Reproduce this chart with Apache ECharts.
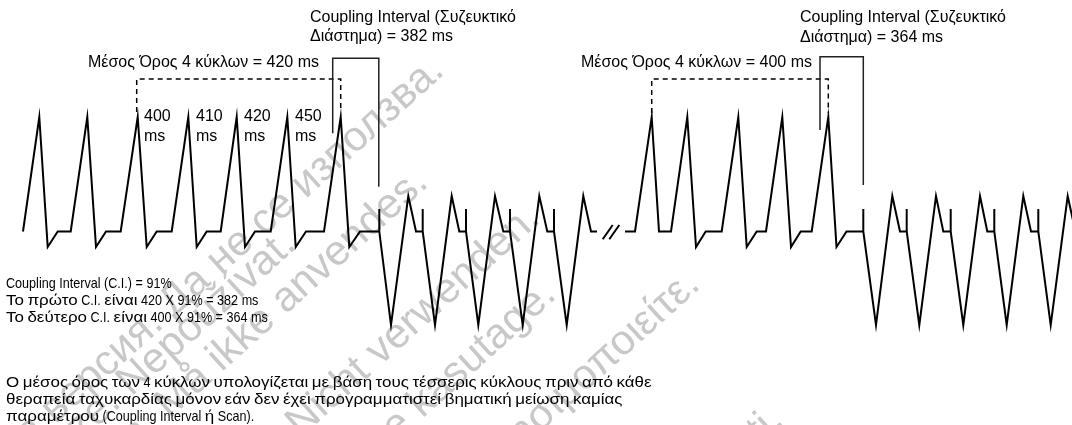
<!DOCTYPE html>
<html>
<head>
<meta charset="utf-8">
<script src="https://cdn.jsdelivr.net/npm/echarts@6.0.0/dist/echarts.min.js"></script>
<style>
html, body { margin: 0; padding: 0; background: #fff; }
#chart { width: 1072px; height: 425px; }
</style>
</head>
<body>
<div id="chart"></div>
<script>
// ECG trace, drawn in picture units (x: 0-1072, y: 0-425 from the top)
var firstStrip = [
	[23, 231.5], [39.3, 117], [47.7, 247], [57.7, 231.5], [70.7, 231.5],
	[87.3, 117], [96, 247], [106, 231.5], [120.7, 231.5],
	[137.7, 117], [146.7, 247], [156.7, 231.5], [171.7, 231.5],
	[188.3, 117], [196.7, 247], [206.7, 231.5], [220.7, 231.5],
	[236.7, 117], [245, 247], [255, 231.5], [270.7, 231.5],
	[287.3, 117], [295.7, 247], [306, 231.5], [324, 231.5],
	[340.7, 117], [349.3, 247], [360, 231.5], [379.3, 231.5],
	[379.3, 209], [379.3, 231.5],
	[391, 325], [408.3, 196], [416, 231.5], [422.7, 231.5], [422.7, 209], [422.7, 231.5],
	[435, 325], [451.7, 196], [459.3, 231.5], [466, 231.5], [466, 209], [466, 231.5],
	[478.3, 325], [495, 196], [503.3, 231.5], [510, 231.5], [510, 209], [510, 231.5],
	[522.7, 325], [539.3, 196], [547.3, 231.5], [554, 231.5], [554, 209], [554, 231.5],
	[566.7, 325], [583.3, 196], [591, 231.5], [597, 231.5]
];
var secondStrip = [
	[625, 231.5], [635, 231.5], [651.7, 117], [659, 231.5], [671, 231.5],
	[687.3, 117], [696, 247], [705.7, 231.5], [721.7, 231.5],
	[738.3, 117], [746.7, 247], [756.7, 231.5], [766, 231.5],
	[782.3, 117], [791, 247], [800.7, 231.5], [811.7, 231.5],
	[828.3, 117], [836.5, 247], [846.5, 231.5], [863.3, 231.5],
	[863.3, 209], [863.3, 231.5],
	[876, 325], [892.3, 196], [900, 231.5], [906.7, 231.5], [906.7, 209], [906.7, 231.5],
	[919.3, 325], [936, 196], [943.3, 231.5], [950.7, 231.5], [950.7, 209], [950.7, 231.5],
	[963.3, 325], [980, 196], [987.3, 231.5], [994.3, 231.5], [994.3, 209], [994.3, 231.5],
	[1006.7, 325], [1023.3, 196], [1031, 231.5], [1038.3, 231.5], [1038.3, 209], [1038.3, 231.5],
	[1050.7, 325], [1067.7, 196], [1075.4, 231.5]
];
var breakMarkA = [[602.7, 239.3], [612.7, 225]];
var breakMarkB = [[609.3, 239.3], [619.3, 225]];

// 4-cycle average brackets (dashed) and coupling interval brackets
var avgDashLeft = [[136.7, 112], [136.7, 79], [340.7, 79], [340.7, 112]];
var avgDashRight = [[651.7, 113], [651.7, 79], [828.3, 79], [828.3, 113]];
var ciBracketLeft = [[332.7, 133.3], [332.7, 58.3], [378.8, 58.3], [378.8, 186.7]];
var ciBracketRight = [[820, 130], [820, 56.7], [863.3, 56.7], [863.3, 185]];

var cycleLabels = ['400', '410', '420', '450'];
var cycleLabelX = [144, 196, 244, 295];

var ciTitle = 'Coupling Interval (Συζευκτικό';
var ciValueLeft = 'Διάστημα) = 382 ms';
var ciValueRight = 'Διάστημα) = 364 ms';
var avgLeft = 'Μέσος Όρος 4 κύκλων = 420 ms';
var avgRight = 'Μέσος Όρος 4 κύκλων = 400 ms';
var noteLines = [
	'Coupling Interval (C.I.) = 91%',
	'Το πρώτο C.I. είναι 420 X 91% = 382 ms',
	'Το δεύτερο C.I. είναι 400 X 91% = 364 ms'
];
var paragraphLines = [
	'Ο μέσος όρος των 4 κύκλων υπολογίζεται με βάση τους τέσσερις κύκλους πριν από κάθε',
	'θεραπεία ταχυκαρδίας μόνον εάν δεν έχει προγραμματιστεί βηματική μείωση καμίας',
	'παραμέτρου (Coupling Interval ή Scan).'
];

// "outdated version" stamp across the page
var stampLines = [
	'Остаряла версия. Да не се използва.',
	'Zastaralá verze. Nepoužívat.',
	'Forældet version. Må ikke anvendes.',
	'Version überholt. Nicht verwenden.',
	'Aegunud versioon. Ärge kasutage.',
	'Παλιά έκδοση. Μην τη χρησιμοποιείτε.',
	'Versiune expirată. Nu utilizaţi.'
];
var stampEnds = [[452, 80], [304, 254], [436, 192], [548, 228], [564, 304], [708, 294], [792, 430]];

var FONT = "'Liberation Sans', Arial, sans-serif";
var NOTE_SIZE = 15;
var LATIN_SCALE = 0.84;   // note text uses a narrow face for latin glyphs
var GREEK_SCALE = 1.13;

function lineSeries(data, color, width, type) {
	return {
		type: 'line',
		data: data,
		symbol: 'none',
		silent: true,
		animation: false,
		z: 3,
		lineStyle: { color: color, width: width, type: type || 'solid', cap: 'butt', join: 'miter', miterLimit: 20 }
	};
}

function topText(str, x, y) {
	return {
		type: 'text', x: x, y: y, silent: true, z: 10,
		style: { text: str, font: '16px ' + FONT, fill: '#000', verticalAlign: 'middle' }
	};
}

var measureCtx = document.createElement('canvas').getContext('2d');
measureCtx.font = NOTE_SIZE + 'px ' + FONT;
function isGreek(ch) {
	var c = ch.charCodeAt(0);
	return (c >= 0x370 && c <= 0x3ff) || (c >= 0x1f00 && c <= 0x1fff);
}
// split a line into greek / other runs and lay them out one after another
function noteText(str, x, y, out) {
	var runs = [];
	for (var i = 0; i < str.length; i++) {
		var g = isGreek(str[i]);
		if (runs.length && runs[runs.length - 1].g === g) runs[runs.length - 1].s += str[i];
		else runs.push({ g: g, s: str[i] });
	}
	var cx = x;
	runs.forEach(function (r) {
		var sc = r.g ? GREEK_SCALE : LATIN_SCALE;
		out.push({
			type: 'text', x: cx, y: y, scaleX: sc, silent: true, z: 10,
			style: { text: r.s, font: NOTE_SIZE + 'px ' + FONT, fill: '#000', verticalAlign: 'middle' }
		});
		cx += measureCtx.measureText(r.s).width * sc;
	});
}

var graphics = [
	topText(ciTitle, 310, 18), topText(ciValueLeft, 310, 37),
	topText(ciTitle, 800, 18), topText(ciValueRight, 800, 38),
	topText(avgLeft, 88, 63), topText(avgRight, 581, 63)
];
cycleLabels.forEach(function (lab, i) {
	graphics.push(topText(lab, cycleLabelX[i], 117));
	graphics.push(topText('ms', cycleLabelX[i], 137));
});
noteLines.forEach(function (s, i) { noteText(s, 6, 284 + i * 17, graphics); });
paragraphLines.forEach(function (s, i) { noteText(s, 6, 383 + i * 17, graphics); });
stampLines.forEach(function (s, i) {
	graphics.push({
		type: 'text', x: stampEnds[i][0], y: stampEnds[i][1], rotation: 42 * Math.PI / 180,
		silent: true, z: 1,
		style: { text: s, font: '42px ' + FONT, fill: '#c8c8c8', align: 'right', verticalAlign: 'bottom' }
	});
});

var chart = echarts.init(document.getElementById('chart'));
chart.setOption({
	animation: false,
	grid: { left: 0, right: 0, top: 0, bottom: 0 },
	xAxis: { type: 'value', min: 0, max: 1072, show: false },
	yAxis: { type: 'value', min: 0, max: 425, inverse: true, show: false },
	series: [
		lineSeries(firstStrip, '#000', 2),
		lineSeries(secondStrip, '#000', 2),
		lineSeries(breakMarkA, '#000', 2),
		lineSeries(breakMarkB, '#000', 2),
		lineSeries(avgDashLeft, '#000', 1.5, [5, 4]),
		lineSeries(avgDashRight, '#000', 1.5, [5, 4]),
		lineSeries(ciBracketLeft, '#222', 1.5),
		lineSeries(ciBracketRight, '#222', 1.5)
	],
	graphic: graphics
});
</script>
</body>
</html>
